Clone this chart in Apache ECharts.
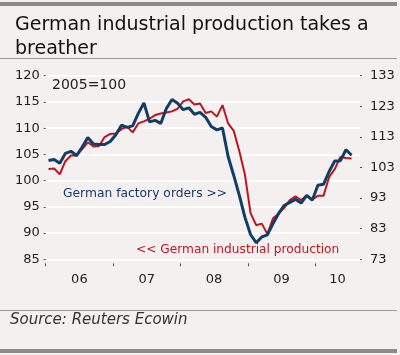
<!DOCTYPE html>
<html>
<head>
<meta charset="utf-8">
<script src="https://cdn.jsdelivr.net/npm/echarts@6/dist/echarts.min.js"></script>
<style>
html,body{margin:0;padding:0;background:#f5f0f0;}
#chart{width:400px;height:355px;}
</style>
</head>
<body>
<div id="chart"></div>
<script>
// Monthly data, Jan 2006 .. Jul 2010
var startYear = 2006;
// << German industrial production (left axis, 2005=100)
var industrialProduction = [
  102.2, 102.3, 101.2, 103.7, 104.8, 104.8, 106.0, 107.3, 106.5, 106.6, 108.3, 108.9,
  109.0, 109.8, 110.3, 109.2, 110.9, 111.3, 111.8, 112.5, 112.8, 113.0, 113.2, 113.7,
  115.1, 115.5, 114.5, 114.7, 112.9, 113.2, 112.2, 114.4, 110.9, 109.5, 105.6, 101.1,
  93.8, 91.5, 91.8, 89.8, 92.8, 93.7, 94.8, 96.3, 97.0, 96.3, 97.1, 96.4,
  97.1, 97.1, 100.7, 102.2, 104.5, 104.3, 104.2
];
// German factory orders >> (right axis, 2005=100)
var factoryOrders = [
  105.3, 105.6, 104.4, 107.6, 108.3, 106.9, 109.7, 112.8, 110.7, 110.5, 110.5, 111.5,
  113.7, 116.8, 116.1, 116.6, 120.7, 124.1, 117.9, 118.4, 117.4, 122.3, 125.2, 124.0,
  121.9, 122.5, 120.4, 121.0, 119.4, 116.4, 115.3, 115.9, 106.6, 100.4, 93.9, 86.7,
  81.1, 78.4, 80.3, 81.0, 84.7, 88.0, 90.6, 91.6, 92.6, 91.4, 93.9, 92.3,
  97.2, 97.5, 101.7, 105.1, 105.2, 108.8, 107.0
];
var yearLabels = ['06', '07', '08', '09', '10'];
var leftTicks = [85, 90, 95, 100, 105, 110, 115, 120];
var rightTicks = [73, 83, 93, 103, 113, 123, 133];

var monthsShown = 56; // axis runs Jan 2006 .. end Aug 2010
function toPairs(arr){ return arr.map(function(v,i){ return [i + 0.5, v]; }); }

var FONT = 'DejaVu Sans';
var chart = echarts.init(document.getElementById('chart'), null, {renderer:'canvas'});
chart.setOption({
  backgroundColor: '#f5f0f0',
  animation: false,
  title: {
    text: 'German industrial production takes a\nbreather',
    left: 10, top: 8,
    textStyle: {fontFamily: FONT, fontSize: 19, fontWeight: 'normal', color: '#111', lineHeight: 24}
  },
  graphic: [
    {type:'rect', shape:{x:0, y:2, width:397, height:4}, style:{fill:'#8c8c8c'}},
    {type:'line', shape:{x1:0, y1:58.5, x2:397, y2:58.5}, style:{stroke:'#9a9a9a', lineWidth:1}},
    {type:'line', shape:{x1:0, y1:310.5, x2:397, y2:310.5}, style:{stroke:'#9a9a9a', lineWidth:1}},
    {type:'rect', shape:{x:0, y:349, width:397, height:4}, style:{fill:'#8c8c8c'}},
    {type:'text', left:10, top:313, style:{text:'Source: Reuters Ecowin', fontFamily:FONT, fontStyle:'italic', fontSize:15, fill:'#333'}},
    {type:'text', left:52, top:78, style:{text:'2005=100', fontFamily:FONT, fontSize:14, fill:'#222'}},
    {type:'text', left:63, top:188, style:{text:'German factory orders >>', fontFamily:FONT, fontSize:12.3, fill:'#173c68'}},
    {type:'text', left:136, top:244, style:{text:'<< German industrial production', fontFamily:FONT, fontSize:12.2, fill:'#c0141c'}}
  ],
  grid: {left: 45.7, right: 40, top: 75.7, bottom: 95.7, containLabel: false},
  xAxis: {
    type: 'value', min: 0, max: monthsShown, offset: 4,
    axisLine: {show: false},
    splitLine: {show: false},
    axisTick: {show: true, length: 3, customValues: [0, 12, 24, 36, 48], lineStyle: {color: '#555'}},
    axisLabel: {
      margin: 10, fontFamily: FONT, fontSize: 13, color: '#222',
      customValues: [6, 18, 30, 42, 52],
      formatter: function(v){ return yearLabels[Math.floor(v / 12)]; }
    }
  },
  yAxis: [
    {
      type: 'value', position: 'left', min: 85, max: 120, interval: 5,
      axisLine: {show: false},
      axisTick: {show: true, length: 2, lineStyle: {color: '#555'}},
      splitLine: {show: true, lineStyle: {color: '#ffffff', width: 2}},
      axisLabel: {margin: 6, fontFamily: FONT, fontSize: 13, color: '#222',
        formatter: function(v){ return leftTicks.indexOf(v) >= 0 ? String(v) : ''; }}
    },
    {
      type: 'value', position: 'right', min: 73, max: 133,
      axisLine: {show: false},
      axisTick: {show: true, length: 2, customValues: rightTicks, lineStyle: {color: '#555'}},
      splitLine: {show: false},
      axisLabel: {margin: 10, fontFamily: FONT, fontSize: 13, color: '#222', customValues: rightTicks}
    }
  ],
  series: [
    {
      name: 'German industrial production', type: 'line', yAxisIndex: 0,
      data: toPairs(industrialProduction), showSymbol: false, silent: true,
      lineStyle: {color: '#c0141c', width: 2}, itemStyle: {color: '#c0141c'}
    },
    {
      name: 'German factory orders', type: 'line', yAxisIndex: 1,
      data: toPairs(factoryOrders), showSymbol: false, silent: true,
      lineStyle: {color: '#123d66', width: 3}, itemStyle: {color: '#123d66'}
    }
  ]
});
</script>
</body>
</html>
